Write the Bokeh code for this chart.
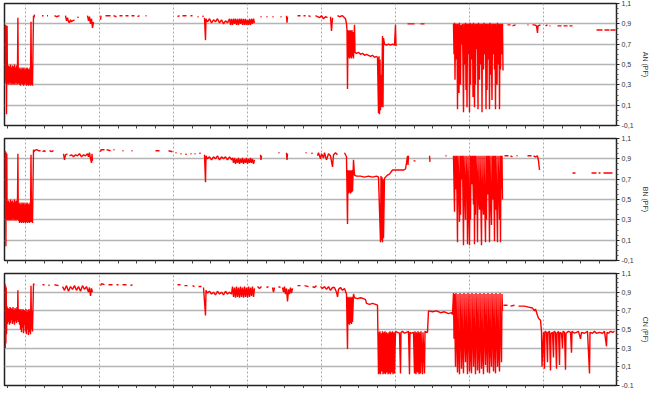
import numpy as np
from bokeh.plotting import figure
from bokeh.layouts import column
from bokeh.models import Range1d, FixedTicker, CustomJSTickFormatter
from bokeh.embed import file_html
from bokeh.resources import INLINE

# ---------------- data (x = sample index, y = power factor) ----------------
y_ticks = [-0.1, 0.1, 0.3, 0.5, 0.7, 0.9, 1.1]
y_grid = [0.1, 0.3, 0.5, 0.7, 0.9]
y_minor = [-0.05, 0.0, 0.05, 0.15, 0.2, 0.25, 0.35, 0.4, 0.45, 0.55, 0.6, 0.65,
           0.75, 0.8, 0.85, 0.95, 1.0, 1.05]
day_ticks = [21, 95, 169, 243, 317, 391, 465, 539]
x_ticks = [2.5 + 18.5 * k for k in range(33)]
labels = ["AN (PF)", "BN (PF)", "CN (PF)"]

an_t = [
    0.5, 0.8, 1.1, 1.4, 1.7, 2.0, 2.3, 2.6, 2.9,
    3.0, 3.5, 4.0, 4.5, 5.0, 5.5, 6.0, 6.5, 7.0, 7.5, 8.0, 8.5, 9.0, 9.5, 10.0, 10.5, 11.0, 11.5, 12.0, 12.5, 13.0,
    13.4, 13.8, 14.5, 15.0, 15.5, 16.0, 16.5, 17.0, 17.5, 18.0, 18.5, 19.0, 19.5, 20.0,
    20.5, 21.0, 21.5, 22.0, 22.5, 23.0, 23.5, 24.0, 24.5, 25.0, 25.5, 26.0,
    26.5, 27.0, 27.5, 28.0, 29.0, 29.5, 30.0, None,
    37.5, 39.0, None, 42.5, 43.5, None, 50.0, 52.0, 55.0, None,
    61, 62, 63, 64, 65, 66, 67, 68, 70, None, 73, 74, None,
    83, 84, 85, 86, 87, 88, 89, None, 96, 96.5, None,
    101, 106, None, 109, 112, None, 115, 118, None, 121, 124, None, 127, 130, None, 133, 135, None, 141, 142, None,
    173, 175, None, 178, 182, None, 186, 188, None, 193, 194, None, 198, 199, None,
    200, 201, 201.5, 203, 205, 207, 209, 211, 213, 215, 217, 219, 221, 223, 225,
    226, 227, 228, 229, 230, 231, 232, 233, 234, 235, 236, 237, 238,
    239, 240, 241, 242, 243, 244, 245, 246, 247, 248, 249, 250, None,
    256, 257, None, 262, 263, None, 268, 269, None, 276, 277, None, 282, 282.5, 283, None,
    293, 296, None, 299, 301, None, 304, 306, None,
    311, 313, 315, 317, 319, 321, 323, None, 326, 327, 328, None,
    333, 335, 338, 340, 341, 342, 342.5, 343, 343.5, 344, 344.5, 345, 345.5, 346, 346.5, 347, 347.5, 348, 348.5, 349,
    350, 350.5, 352, 354, 356, 358, 360, 362, 364, 366, 368, 370, 372, 373,
    374, 374.5, 375, 375.5, 376, 376.5, 377, 378, 378.5, 379, 380, 382, 384, 386, 388, 390, 391, 391.5, None,
    403, 410, None, 416, 420, None,
    449, 449.5, 450, 450.5, 451, 452, 452.5, 453, 453.5, 454.5, 455, 456, 456.5, 457.5, 458, 459, 459.5, 460.5, 461, 461.5,
    462, 462.5, 463, 464, 464.5, 465, 465.5, 466, 466.5, 467.5, 468, 468.5, 469, 470, 470.5, 471, 471.5, 472.5, 473, 473.5,
    474, 475, 475.5, 476.5, 477, 477.5, 478, 479, 479.5, 480.5, 481, 481.5, 482, 482.5, 483, 484, 484.5, 485, 485.5, 486,
    486.5, 487.5, 488, 489, 489.5, 490, 490.5, 491, 491.5, 492.5, 493, 494, 494.5, 495, 495.5, 496, 497, 497.5, 498, 498.5, None,
    503, 506, None, 508, 511, None, 523, 524, None, 528, 530, 532, 533, 533.5, 536, None,
    541, 543, None, 545, 546, None, 553, 557, None, 559, 563, None, 565, 568, None,
    592, 598, None, 600, 605, None, 606, 611,
]
an_v = [
    0.89, 0.34, 0.89, 0.31, 0.88, 0.01, 0.45, 0.88, 0.32,
    0.47, 0.31, 0.49, 0.30, 0.48, 0.32, 0.50, 0.30, 0.47, 0.31, 0.49, 0.30, 0.48, 0.31, 0.50, 0.30, 0.47, 0.32, 0.49, 0.30, 0.46,
    0.96, 0.31, 0.46, 0.30, 0.47, 0.29, 0.45, 0.31, 0.47, 0.30, 0.46, 0.29, 0.47, 0.30,
    0.45, 0.31, 0.46, 0.29, 0.47, 0.30, 0.46, 0.29, 0.45, 0.30, 0.47, 0.29,
    0.92, 0.30, 0.45, 0.29, 0.98, 0.96, 0.99, None,
    0.98, 0.98, None, 0.98, 0.98, None, 0.98, 0.97, 0.98, None,
    0.98, 0.93, 0.96, 0.92, 0.91, 0.94, 0.92, 0.93, 0.94, None, 0.96, 0.97, None,
    0.98, 0.93, 0.97, 0.90, 0.95, 0.86, 0.92, None, 0.94, 0.98, None,
    0.98, 0.98, None, 0.98, 0.97, None, 0.98, 0.98, None, 0.98, 0.98, None, 0.98, 0.98, None, 0.97, 0.98, None, 0.98, 0.98, None,
    0.97, 0.98, None, 0.98, 0.98, None, 0.98, 0.98, None, 0.97, 0.97, None, 0.98, 0.97, None,
    0.96, 0.74, 0.95, 0.92, 0.95, 0.91, 0.94, 0.92, 0.95, 0.91, 0.94, 0.90, 0.93, 0.91, 0.95,
    0.89, 0.95, 0.89, 0.95, 0.90, 0.95, 0.89, 0.95, 0.89, 0.95, 0.90, 0.95, 0.89,
    0.95, 0.89, 0.95, 0.89, 0.94, 0.89, 0.95, 0.89, 0.95, 0.90, 0.95, 0.91, None,
    0.97, 0.97, None, 0.97, 0.97, None, 0.97, 0.97, None, 0.97, 0.97, None, 0.98, 0.91, 0.97, None,
    0.98, 0.98, None, 0.98, 0.98, None, 0.98, 0.97, None,
    0.98, 0.97, 0.96, 0.98, 0.95, 0.97, 0.96, None, 0.97, 0.83, 0.96, None,
    0.98, 0.97, 0.98, 0.96, 0.95, 0.90, 0.84, 0.26, 0.84, 0.57, 0.83, 0.56, 0.84, 0.57, 0.83, 0.56, 0.84, 0.58, 0.82, 0.56,
    0.89, 0.62, 0.61, 0.62, 0.60, 0.61, 0.59, 0.60, 0.59, 0.58, 0.59, 0.57, 0.58, 0.57,
    0.02, 0.58, 0.01, 0.55, 0.05, 0.40, 0.08, 0.78, 0.08, 0.76, 0.70, 0.69, 0.70, 0.69, 0.70, 0.69, 0.89, 0.68, None,
    0.90, 0.90, None, 0.90, 0.90, None,
    0.90, 0.60, 0.91, 0.35, 0.90, 0.55, 0.90, 0.06, 0.90, 0.22, 0.91, 0.30, 0.89, 0.70, 0.90, 0.03, 0.90, 0.50, 0.91, 0.25,
    0.90, 0.08, 0.90, 0.60, 0.90, 0.03, 0.91, 0.30, 0.90, 0.55, 0.90, 0.18, 0.91, 0.08, 0.90, 0.30, 0.90, 0.65, 0.90, 0.06,
    0.91, 0.35, 0.90, 0.50, 0.90, 0.03, 0.90, 0.45, 0.91, 0.60, 0.90, 0.06, 0.90, 0.25, 0.90, 0.55, 0.90, 0.06, 0.91, 0.40,
    0.90, 0.15, 0.90, 0.60, 0.90, 0.45, 0.90, 0.06, 0.90, 0.30, 0.91, 0.50, 0.90, 0.06, 0.90, 0.45, 0.90, 0.60, 0.90, 0.44, None,
    0.89, 0.89, None, 0.88, 0.89, None, 0.89, 0.89, None, 0.89, 0.89, 0.88, 0.81, 0.88, 0.89, None,
    0.88, 0.89, None, 0.88, 0.88, None, 0.88, 0.88, None, 0.88, 0.88, None, 0.88, 0.88, None,
    0.84, 0.84, None, 0.84, 0.84, None, 0.84, 0.84,
]

bn_t = [
    0.5, 0.8, 1.1, 1.4, 1.7, 2.0, 2.3, 2.6, 2.9,
    3.0, 3.5, 4.0, 4.5, 5.0, 5.5, 6.0, 6.5, 7.0, 7.5, 8.0, 8.5, 9.0, 9.5, 10.0, 10.5, 11.0, 11.5, 12.0, 12.5, 13.0,
    13.4, 13.8, 14.5, 15.0, 15.5, 16.0, 16.5, 17.0, 17.5, 18.0, 18.5, 19.0, 19.5, 20.0,
    20.5, 21.0, 21.5, 22.0, 22.5, 23.0, 23.5, 24.0, 24.5, 25.0, 25.5, 26.0,
    26.5, 27.0, 27.5, 28.0, 29.0, 29.5, 30.0, 32.0, 34.0, 36.0, None,
    38, 40, 41, None, 45, 47, 49, None, 59, 60, 61, 63, None,
    65, 67, 69, 71, 73, 75, 77, 79, 81, 83, 84, 85, 86, 87, 87.5, 88, None,
    96, 96.5, 100, None, 102, 106, None, 109, 110, None, 118, 119, None, 127, 128, None,
    151, 155, None, 164, 168, None, 171, 172, None, 176, 177, None, 181, 182, None, 186, 187, None,
    190, 191, None, 195, 196, None,
    200, 201, 201.5, 203, 205, 207, 209, 211, 213, 215, 217, 219, 221, 223, 225, 227,
    228, 229, 230, 231, 232, 233, 234, 235, 236, 237, 238, 239,
    240, 241, 242, 243, 244, 245, 246, 247, 248, 249, 250, None,
    256, 256.5, 257, None, 274, 275, None, 282, 282.5, 283, None, 301, 302, None, 307, 308, None,
    313, 314, 316, 317, 319, 320, 322, 324, 326, 328, 329, 331, 333, None,
    340, 342, 343, 343.5, 344, 344.5, 345, 345.5, 346, 346.5, 347, 347.5, 348, 349, 350,
    352, 356, 360, 364, 368, 372, 374, 376, 376.5, 377, 377.5, 378, 378.5, 379, 380, 381, 383, 385, 388,
    392, 396, 399, 401, 402, 403, 403.5, 404, None, 409, 411, None, 425, 425.5, None, 441, 442, None,
    449, 450, 450.5, 451.5, 452, 453, 453.5, 454.5, 455, 455.5, 456, 456.5, 457.5, 458, 459, 459.5, 460.5, 461, 461.5, 462.5,
    463, 463.5, 464, 465, 465.5, 466, 466.5, 467.5, 468, 469, 469.5, 470, 470.5, 471, 471.5, 472.5, 473, 473.5, 474, 475,
    475.5, 476, 477, 477.5, 478, 479, 479.5, 480, 481, 481.5, 482, 482.5, 483.5, 484, 485, 485.5, 486, 487, 487.5, 488.5,
    489, 490, 490.5, 491, 491.5, 492, 493, 493.5, 494.5, 495, 495.5, 496, 496.5, 497, 497.5, 498, None,
    500, 504, None, 506, 508, None, 512, 513, None, 523, 527, None, 529, 531, 533, 534, 535, None,
    568, 571, None, 587, 592, None, 594, 596, None, 599, 608,
]
bn_v = [
    0.98, 0.30, 0.97, 0.04, 0.96, 0.33, 0.95, 0.30, 0.45,
    0.48, 0.29, 0.49, 0.30, 0.47, 0.29, 0.50, 0.30, 0.48, 0.29, 0.49, 0.31, 0.47, 0.29, 0.50, 0.30, 0.48, 0.29, 0.49, 0.30, 0.47,
    0.95, 0.29, 0.46, 0.27, 0.47, 0.28, 0.45, 0.27, 0.47, 0.28, 0.46, 0.27, 0.47, 0.28,
    0.45, 0.27, 0.46, 0.28, 0.47, 0.27, 0.46, 0.28, 0.45, 0.27, 0.47, 0.28,
    0.94, 0.28, 0.46, 0.27, 0.99, 0.97, 0.98, 0.99, 0.98, 0.98, None,
    0.97, 0.98, 0.97, None, 0.98, 0.97, 0.98, None, 0.95, 0.89, 0.94, 0.95, None,
    0.93, 0.94, 0.92, 0.94, 0.93, 0.95, 0.92, 0.94, 0.93, 0.95, 0.92, 0.96, 0.90, 0.86, 0.95, 0.88, None,
    0.97, 0.99, 0.99, None, 0.99, 0.98, None, 0.99, 0.99, None, 0.98, 0.98, None, 0.98, 0.98, None,
    0.98, 0.98, None, 0.98, 0.97, None, 0.96, 0.96, None, 0.95, 0.95, None, 0.95, 0.94, None, 0.95, 0.95, None,
    0.95, 0.95, None, 0.96, 0.95, None,
    0.94, 0.67, 0.93, 0.90, 0.92, 0.89, 0.92, 0.90, 0.93, 0.89, 0.92, 0.90, 0.92, 0.89, 0.92, 0.89,
    0.91, 0.86, 0.91, 0.85, 0.90, 0.86, 0.91, 0.85, 0.90, 0.86, 0.91, 0.85,
    0.90, 0.86, 0.91, 0.85, 0.90, 0.86, 0.91, 0.86, 0.90, 0.85, 0.89, None,
    0.94, 0.89, 0.93, None, 0.96, 0.96, None, 0.96, 0.89, 0.95, None, 0.96, 0.96, None, 0.95, 0.96, None,
    0.93, 0.96, 0.90, 0.95, 0.91, 0.96, 0.89, 0.95, 0.93, 0.82, 0.94, 0.96, 0.94, None,
    0.96, 0.92, 0.26, 0.79, 0.56, 0.78, 0.57, 0.79, 0.56, 0.78, 0.57, 0.79, 0.58, 0.89, 0.74,
    0.73, 0.73, 0.72, 0.73, 0.72, 0.73, 0.72, 0.08, 0.73, 0.10, 0.72, 0.08, 0.70, 0.12, 0.71, 0.72, 0.74, 0.75, 0.79,
    0.79, 0.79, 0.79, 0.80, 0.86, 0.93, 0.84, 0.93, None, 0.88, 0.88, None, 0.93, 0.87, None, 0.93, 0.93, None,
    0.93, 0.38, 0.93, 0.60, 0.93, 0.08, 0.93, 0.55, 0.28, 0.93, 0.35, 0.93, 0.70, 0.93, 0.05, 0.93, 0.50, 0.30, 0.93, 0.62,
    0.06, 0.93, 0.55, 0.05, 0.93, 0.30, 0.93, 0.65, 0.93, 0.45, 0.93, 0.06, 0.93, 0.35, 0.93, 0.60, 0.08, 0.93, 0.55, 0.40,
    0.93, 0.65, 0.05, 0.93, 0.50, 0.35, 0.93, 0.60, 0.08, 0.93, 0.30, 0.93, 0.55, 0.93, 0.08, 0.93, 0.60, 0.25, 0.93, 0.50,
    0.93, 0.09, 0.93, 0.40, 0.93, 0.60, 0.08, 0.93, 0.55, 0.30, 0.93, 0.08, 0.93, 0.60, 0.93, 0.50, None,
    0.93, 0.93, None, 0.93, 0.92, None, 0.93, 0.93, None, 0.93, 0.93, None, 0.93, 0.92, 0.93, 0.88, 0.79, None,
    0.76, 0.76, None, 0.76, 0.76, None, 0.76, 0.76, None, 0.76, 0.76,
]

cn_t = [
    0.5, 0.8, 1.1, 1.4, 1.7, 2.0, 2.5,
    3.0, 3.5, 4.0, 4.5, 5.0, 5.5, 6.0, 6.5, 7.0, 7.5, 8.0, 8.5, 9.0, 9.5, 10.0, 10.5, 11.0, 11.5, 12.0, 12.5, 13.0,
    13.4, 13.8, 14.5, 15.0, 15.5, 16.0, 16.5, 17.0, 17.5, 18.0, 18.5, 19.0, 19.5, 20.0,
    20.5, 21.0, 21.5, 22.0, 22.5, 23.0, 23.5, 24.0, 24.5, 25.0, 25.5, 26.0,
    26.5, 27.0, 27.5, 28.0, 29.0, 30.0, None,
    38, 40, None, 44, 45, None, 50, 54, None,
    58, 60, 62, 64, 66, 68, 70, 72, 74, 76, 78, 80, 82, 84, 85, 86, 87, 88, None,
    96, 97, 100, None, 104, 108, None, 112, 114, None, 118, 122, None, 126, 128, None,
    173, 176, None, 180, 183, None, 188, 190, None, 194, 197, None,
    199, 201, 201.5, 203, 205, 207, 209, 211, 213, 215, 217, 219, 221, 223, 225, 227,
    228, 229, 230, 231, 232, 233, 234, 235, 236, 237, 238, 239,
    240, 241, 242, 243, 244, 245, 246, 247, 248, 249, 250, None,
    253, 255, 257, None, 262, 264, None, 268, 269, 270, None, 274, 276, None,
    278, 279, 280, 281, 282, 283, 284, 285, 286, 287, 288, None,
    293, 296, None, 300, 304, None, 308, 310, 312, None,
    316, 318, 320, 322, 324, 326, 328, 330, 332, 333, 334, 336, 338, 340, 342,
    343, 343.5, 344, 344.5, 345, 345.5, 346, 346.5, 347, 347.5, 348, 349, 350, 353, 356, 359, 361, 362,
    365, 368, 371, 373, 374, 374.5, 375, 375.5, 376, 377, 377.5, 378, 378.5, 379.5, 380, 380.5, 381, 382,
    382.5, 383, 383.5, 384.5, 385, 385.5, 386, 387, 387.5, 388, 388.5, 389.5, 390, 391, 393, 395, 396, 396.5,
    398, 400, 402, 404, 405, 405.5, 407, 409, 410, 410.5, 411.5, 412, 413, 413.5, 414.5, 415, 416, 416.5,
    418, 418.5, 420, 420.5, 422, 423, 424, 428, 432, 436, 440, 444, 447, 448,
    449, 449.5, 450, 451, 451.5, 452, 453, 453.5, 454, 455, 455.5, 456, 457, 457.5, 458, 459, 459.5, 460, 461, 461.5,
    462, 463, 463.5, 464, 465, 465.5, 466, 467, 467.5, 468, 469, 469.5, 470, 471, 471.5, 472, 473, 473.5, 474, 475,
    475.5, 476, 477, 477.5, 478, 479, 479.5, 480, 481, 481.5, 482, 483, 483.5, 484, 485, 485.5, 486, 487, 487.5, 488,
    489, 489.5, 490, 491, 491.5, 492, 493, 493.5, 494, 495, 495.5, 496, 497, 497.5, 498, None,
    499, 503, None, 506, 510, None, 514, 520, 524, 528, 530, 531, 533, 534, 536,
    537, 537.5, 539, 540, 540.5, 542, 543, 543.5, 545, 546, 546.5, 548, 549, 549.5, 551, 552, 552.5, 554, 555, 555.5,
    557, 558, 558.5, 560, 561, 561.5, 564, 566, 567, 567.5, 570, 572, 574, 576, 577, 580, 583, 585, 585.5, 588,
    590, 592, 595, 598, 600, 602, 602.5, 604, 606, 608, 610,
]
cn_v = [
    0.99, 0.30, 0.97, 0.35, 0.95, 0.45, 0.75,
    0.56, 0.73, 0.58, 0.72, 0.55, 0.74, 0.57, 0.73, 0.60, 0.72, 0.56, 0.74, 0.58, 0.71, 0.55, 0.73, 0.59, 0.72, 0.57, 0.74, 0.60,
    0.92, 0.58, 0.72, 0.55, 0.71, 0.50, 0.72, 0.47, 0.70, 0.52, 0.72, 0.46, 0.71, 0.55,
    0.70, 0.48, 0.72, 0.45, 0.69, 0.50, 0.71, 0.44, 0.72, 0.47, 0.70, 0.45,
    0.97, 0.50, 0.70, 0.48, 0.99, 0.98, None,
    0.98, 0.98, None, 0.97, 0.98, None, 0.98, 0.97, None,
    0.96, 0.92, 0.97, 0.91, 0.96, 0.93, 0.97, 0.92, 0.96, 0.91, 0.97, 0.93, 0.96, 0.90, 0.95, 0.86, 0.94, 0.90, None,
    0.97, 0.99, 0.98, None, 0.98, 0.98, None, 0.98, 0.98, None, 0.98, 0.98, None, 0.97, 0.98, None,
    0.98, 0.98, None, 0.97, 0.97, None, 0.97, 0.96, None, 0.96, 0.96, None,
    0.95, 0.65, 0.92, 0.89, 0.91, 0.88, 0.90, 0.87, 0.91, 0.88, 0.90, 0.87, 0.91, 0.88, 0.90, 0.88,
    0.96, 0.85, 0.95, 0.84, 0.96, 0.85, 0.95, 0.84, 0.96, 0.85, 0.95, 0.84,
    0.96, 0.85, 0.95, 0.84, 0.96, 0.85, 0.95, 0.86, 0.96, 0.85, 0.94, None,
    0.96, 0.94, 0.96, None, 0.95, 0.96, None, 0.95, 0.90, 0.95, None, 0.96, 0.95, None,
    0.95, 0.90, 0.96, 0.88, 0.94, 0.80, 0.93, 0.88, 0.95, 0.89, 0.94, None,
    0.97, 0.97, None, 0.97, 0.96, None, 0.96, 0.95, 0.97, None,
    0.96, 0.94, 0.96, 0.93, 0.96, 0.92, 0.95, 0.95, 0.90, 0.85, 0.93, 0.95, 0.92, 0.94, 0.88,
    0.29, 0.85, 0.56, 0.84, 0.55, 0.85, 0.57, 0.84, 0.56, 0.85, 0.58, 0.88, 0.84, 0.83, 0.84, 0.83, 0.82, 0.78,
    0.77, 0.78, 0.77, 0.76, 0.02, 0.47, 0.03, 0.48, 0.02, 0.46, 0.05, 0.48, 0.02, 0.47, 0.03, 0.48, 0.02, 0.47,
    0.04, 0.46, 0.02, 0.47, 0.03, 0.48, 0.02, 0.47, 0.04, 0.48, 0.02, 0.47, 0.03, 0.48, 0.47, 0.46, 0.03, 0.47,
    0.48, 0.46, 0.47, 0.48, 0.02, 0.47, 0.46, 0.47, 0.03, 0.48, 0.02, 0.47, 0.04, 0.48, 0.02, 0.47, 0.03, 0.48,
    0.02, 0.47, 0.03, 0.48, 0.47, 0.47, 0.70, 0.69, 0.70, 0.68, 0.69, 0.67, 0.68, 0.66,
    0.89, 0.40, 0.88, 0.10, 0.89, 0.55, 0.04, 0.88, 0.30, 0.02, 0.89, 0.60, 0.08, 0.88, 0.35, 0.03, 0.89, 0.50, 0.15, 0.88,
    0.45, 0.02, 0.89, 0.60, 0.05, 0.88, 0.30, 0.03, 0.89, 0.55, 0.10, 0.88, 0.40, 0.02, 0.89, 0.65, 0.06, 0.88, 0.35, 0.03,
    0.89, 0.50, 0.08, 0.88, 0.30, 0.02, 0.89, 0.60, 0.12, 0.88, 0.45, 0.04, 0.89, 0.55, 0.03, 0.88, 0.35, 0.10, 0.89, 0.60,
    0.05, 0.88, 0.40, 0.03, 0.89, 0.55, 0.10, 0.88, 0.30, 0.05, 0.89, 0.60, 0.15, 0.88, 0.70, None,
    0.76, 0.76, None, 0.75, 0.76, None, 0.75, 0.75, 0.74, 0.73, 0.70, 0.72, 0.65, 0.62, 0.60,
    0.48, 0.10, 0.47, 0.08, 0.48, 0.47, 0.15, 0.47, 0.48, 0.06, 0.46, 0.47, 0.20, 0.48, 0.47, 0.08, 0.46, 0.48, 0.12, 0.47,
    0.46, 0.30, 0.48, 0.47, 0.07, 0.46, 0.48, 0.47, 0.25, 0.48, 0.46, 0.47, 0.48, 0.40, 0.47, 0.46, 0.48, 0.03, 0.47, 0.46,
    0.48, 0.46, 0.47, 0.46, 0.48, 0.32, 0.47, 0.46, 0.48, 0.47, 0.48,
]


def to_arr(a):
    return np.array([np.nan if x is None else x for x in a], dtype=float)


def make_panel(t, v, label, frame_h, top, bottom):
    n = min(len(t), len(v))
    p = figure(frame_width=612, frame_height=frame_h,
               x_range=Range1d(0, 612), y_range=Range1d(-0.1, 1.1),
               output_backend="svg", toolbar_location=None,
               x_axis_location="below", y_axis_location="right",
               min_border_left=4, min_border_right=0,
               min_border_top=top, min_border_bottom=bottom,
               background_fill_color="white", border_fill_color="white")
    p.outline_line_color = "#222222"
    p.outline_line_width = 1.5

    # right axis
    ya = p.yaxis[0]
    ya.ticker = FixedTicker(ticks=y_ticks, minor_ticks=y_minor)
    ya.formatter = CustomJSTickFormatter(code="return tick.toFixed(1).replace('.', ',');")
    ya.axis_label = label
    ya.axis_label_text_font = "Liberation Sans"
    ya.axis_label_text_font_size = "7px"
    ya.axis_label_text_font_style = "normal"
    ya.axis_label_text_color = "#333333"
    ya.axis_label_standoff = 5
    ya.major_label_text_font = "Liberation Sans"
    ya.major_label_text_font_size = "7px"
    ya.major_label_text_color = "#333333"
    ya.major_label_standoff = 2
    ya.major_tick_in = 0
    ya.major_tick_out = 3
    ya.minor_tick_in = 0
    ya.minor_tick_out = 2
    ya.axis_line_color = "#222222"
    ya.major_tick_line_color = "#222222"
    ya.minor_tick_line_color = "#555555"

    # bottom axis (ticks only)
    xa = p.xaxis[0]
    xa.ticker = FixedTicker(ticks=x_ticks)
    xa.formatter = CustomJSTickFormatter(code="return '';")
    xa.major_label_text_font_size = "1px"
    xa.major_label_standoff = 0
    xa.major_tick_in = 0
    xa.major_tick_out = 3
    xa.minor_tick_line_color = None
    xa.axis_line_color = "#222222"
    xa.major_tick_line_color = "#444444"

    # grids
    p.ygrid.ticker = FixedTicker(ticks=y_grid)
    p.ygrid.grid_line_color = "#b4b4b4"
    p.ygrid.grid_line_width = 1.6
    p.xgrid.ticker = FixedTicker(ticks=day_ticks)
    p.xgrid.grid_line_color = "#a8a8a8"
    p.xgrid.grid_line_dash = "2 2"
    p.xgrid.grid_line_width = 1

    p.line(to_arr(t[:n]), to_arr(v[:n]), line_color="#ff0000", line_width=1.4)
    return p


p1 = make_panel(an_t, an_v, labels[0], 122, 3, 10)
p2 = make_panel(bn_t, bn_v, labels[1], 122, 3, 10)
p3 = make_panel(cn_t, cn_v, labels[2], 112, 3, 3)

layout = column(p1, p2, p3, spacing=0)
open("out.html", "w").write(file_html(layout, INLINE))
